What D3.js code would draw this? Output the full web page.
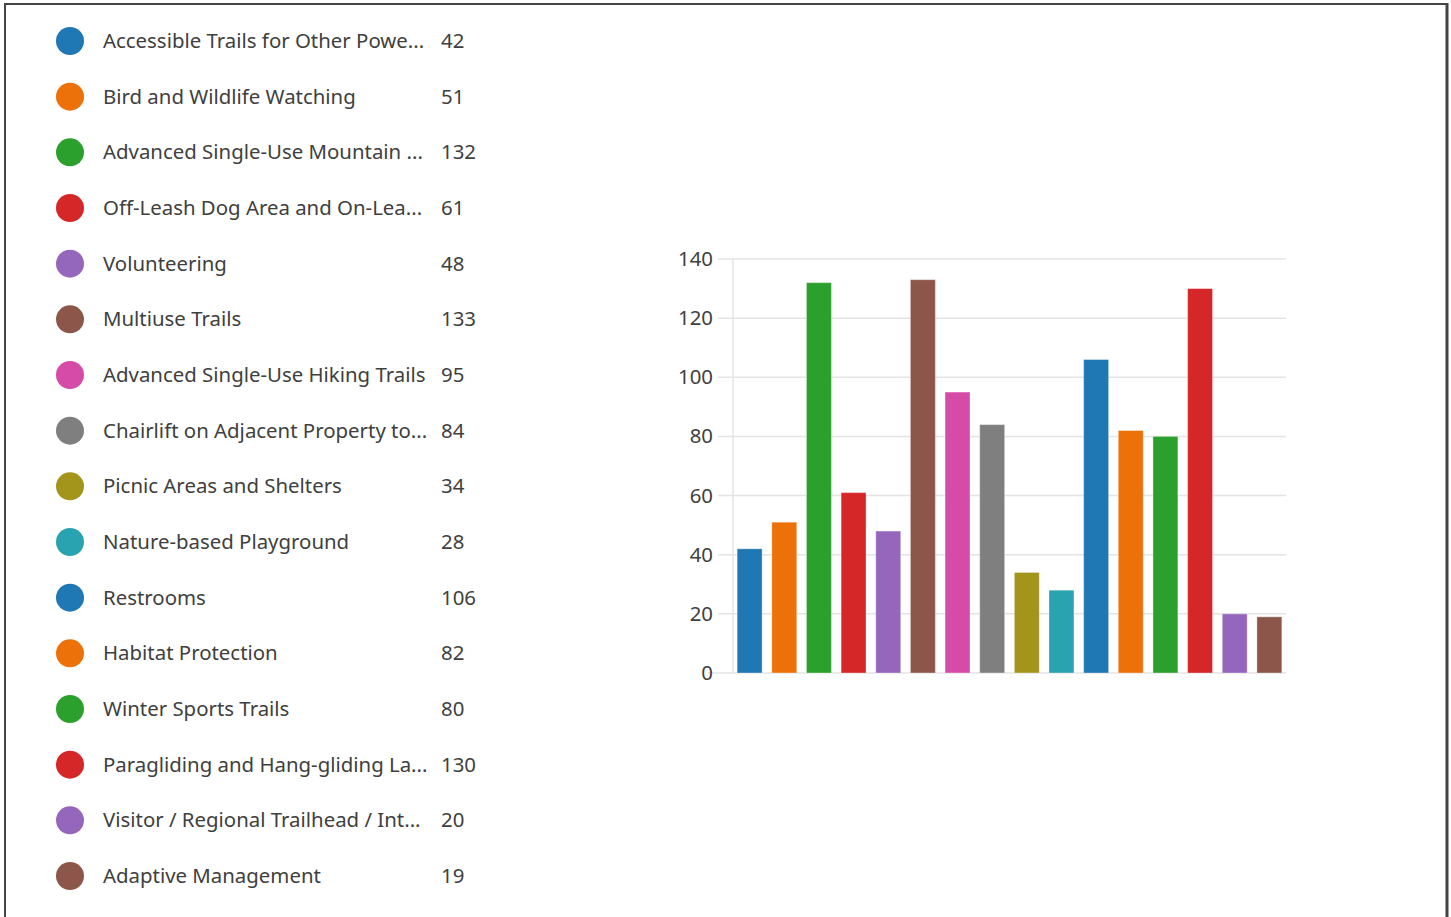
<!DOCTYPE html>
<html><head><meta charset="utf-8">
<script src="https://cdn.jsdelivr.net/npm/d3@7"></script>
<style>
html,body{margin:0;padding:0;background:#fff;}
svg{display:block;}
text{font-family:"Noto Sans","Open Sans",sans-serif;}
</style></head>
<body>
<svg id="c" width="1451" height="917"></svg>
<script>
const categories = [
  "Accessible Trails for Other Powe...",
  "Bird and Wildlife Watching",
  "Advanced Single-Use Mountain ...",
  "Off-Leash Dog Area and On-Lea...",
  "Volunteering",
  "Multiuse Trails",
  "Advanced Single-Use Hiking Trails",
  "Chairlift on Adjacent Property to...",
  "Picnic Areas and Shelters",
  "Nature-based Playground",
  "Restrooms",
  "Habitat Protection",
  "Winter Sports Trails",
  "Paragliding and Hang-gliding La...",
  "Visitor / Regional Trailhead / Int...",
  "Adaptive Management"
];
const values = [42, 51, 132, 61, 48, 133, 95, 84, 34, 28, 106, 82, 80, 130, 20, 19];
const colors = ["#1f77b4","#ec7108","#2ca02c","#d62728","#9467bd","#8c564b","#d64aa8","#7f7f7f","#a3951c","#29a3b0",
                "#1f77b4","#ec7108","#2ca02c","#d62728","#9467bd","#8c564b"];
const yTicks = [0, 20, 40, 60, 80, 100, 120, 140];

const svg = d3.select("#c");
const textColor = "#404040";

// frame
svg.append("line").attr("x1",4).attr("x2",1448).attr("y1",4).attr("y2",4).attr("stroke","#444").attr("stroke-width",2);
svg.append("line").attr("x1",5).attr("x2",5).attr("y1",3).attr("y2",917).attr("stroke","#444").attr("stroke-width",2);
svg.append("line").attr("x1",1447).attr("x2",1447).attr("y1",3).attr("y2",917).attr("stroke","#444").attr("stroke-width",3);

// legend
const ly = d3.scaleLinear().domain([0, categories.length - 1]).range([41, 876]);
const leg = svg.append("g");
const rows = leg.selectAll("g").data(categories).join("g")
  .attr("transform", (d, i) => `translate(0,${ly(i)})`);
rows.append("circle").attr("cx", 70).attr("cy", 0).attr("r", 14).attr("fill", (d, i) => colors[i]);
rows.append("text").attr("x", 103).attr("y", 0).attr("dy", "0.35em")
  .attr("font-size", 20.4).attr("fill", textColor).text(d => d);
rows.append("text").attr("x", 441).attr("y", 0).attr("dy", "0.35em")
  .attr("font-size", 20.4).attr("fill", textColor).text((d, i) => values[i]);

// chart
const x = d3.scaleBand().domain(d3.range(categories.length)).range([733, 1286]).paddingInner(0.28).paddingOuter(0.12);
const y = d3.scaleLinear().domain([0, 140]).range([673, 259]);

const grid = svg.append("g");
grid.selectAll("line").data(yTicks).join("line")
  .attr("x1", d => d === 0 ? 708 : 718).attr("x2", 1286)
  .attr("y1", d => y(d)).attr("y2", d => y(d))
  .attr("stroke", "#e4e4e4").attr("stroke-width", 1.5);
svg.append("line").attr("x1", 733).attr("x2", 733).attr("y1", 259).attr("y2", 673)
  .attr("stroke", "#e4e4e4").attr("stroke-width", 1.5);

const yAxis = svg.append("g").attr("transform", "translate(713,0)")
  .call(d3.axisLeft(y).tickValues(yTicks).tickSize(0).tickPadding(0));
yAxis.select(".domain").remove();
yAxis.selectAll("text").attr("font-size", 20.4).attr("fill", textColor)
  .attr("font-family", "'Noto Sans','Open Sans',sans-serif");

svg.append("g").selectAll("rect").data(values).join("rect")
  .attr("x", (d, i) => x(i)).attr("width", x.bandwidth())
  .attr("y", d => y(d)).attr("height", d => y(0) - y(d))
  .attr("fill", (d, i) => colors[i])
  .attr("stroke", "rgba(255,255,255,0.35)").attr("stroke-width", 1);
</script>
</body></html>
